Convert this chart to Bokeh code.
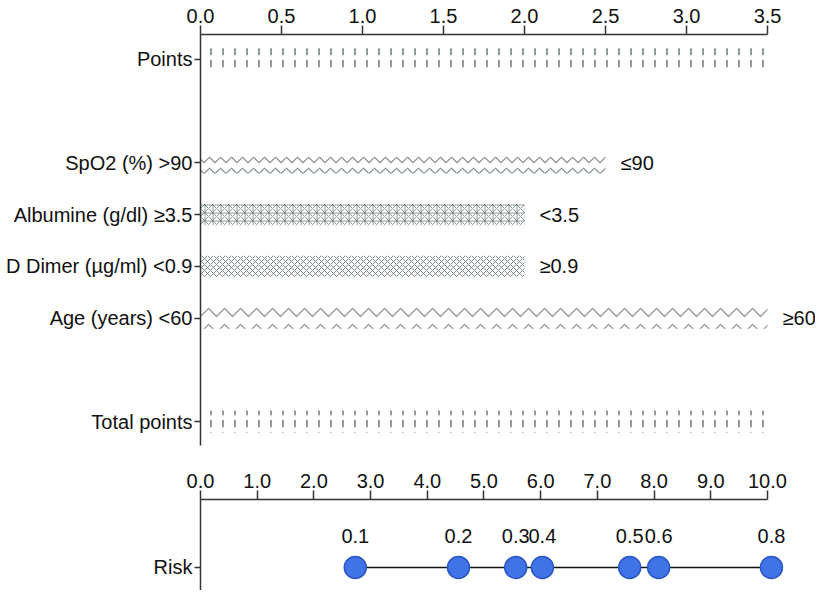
from bokeh.plotting import figure
from bokeh.layouts import column
from bokeh.models import Range1d, FixedTicker, NumeralTickFormatter, ColumnDataSource
from bokeh.embed import file_html
from bokeh.resources import INLINE
from bokeh.core.properties import value

# ---------------- data ----------------
row_labels = ["Points", "SpO2 (%) >90", "Albumine (g/dl) ≥3.5",
              "D Dimer (µg/ml) <0.9", "Age (years) <60", "Total points"]
row_pos = [0, 2, 3, 4, 5, 7]

var_rows = [2, 3, 4, 5]
var_points = [2.5, 2.0, 2.0, 3.5]
var_end_labels = ["≤90", "<3.5", "≥0.9", "≥60"]

scale_rows = [0, 7]          # Points, Total points
points_max = 3.5
points_ticks = [0.0, 0.5, 1.0, 1.5, 2.0, 2.5, 3.0, 3.5]
total_ticks = [0, 1, 2, 3, 4, 5, 6, 7, 8, 9, 10]

risk_labels = ["0.1", "0.2", "0.3", "0.4", "0.5", "0.6", "0.8"]
risk_total_points = [2.73, 4.55, 5.56, 6.03, 7.57, 8.08, 10.07]

# ---------------- style ----------------
FONT = "Liberation Sans"
FS = "20px"
HATCH_COLOR = "#6a7878"
AXIS_COLOR = "#333333"

def style_axes(p):
    for ax in p.axis:
        ax.axis_line_color = AXIS_COLOR
        ax.axis_line_width = 1.5
        ax.major_tick_line_color = AXIS_COLOR
        ax.major_tick_line_width = 1.5
        ax.minor_tick_line_color = None
        ax.major_tick_in = 0
        ax.major_label_text_font = FONT
        ax.major_label_text_font_size = FS
        ax.major_label_text_color = "#111111"
    p.grid.visible = False
    p.outline_line_color = None

# ---------------- top figure ----------------
p1 = figure(width=815, height=455, x_range=Range1d(0, 3.796), y_range=Range1d(7.464, -0.483),
            output_backend="svg", toolbar_location=None, x_axis_location="above",
            min_border_left=200, min_border_right=0, min_border_top=34, min_border_bottom=10)
style_axes(p1)
p1.xaxis.ticker = FixedTicker(ticks=points_ticks)
p1.xaxis.formatter = NumeralTickFormatter(format="0.0")
p1.xaxis.bounds = (0, points_max)
p1.xaxis.major_tick_out = 9
p1.xaxis.major_label_standoff = 3
p1.yaxis.ticker = FixedTicker(ticks=row_pos)
p1.yaxis.major_label_overrides = {k: v for k, v in zip(row_pos, row_labels)}
p1.yaxis.major_tick_out = 6
p1.yaxis.major_label_standoff = 2

scale_src = ColumnDataSource(dict(y=scale_rows, right=[points_max] * len(scale_rows)))
p1.hbar(y="y", left=0, right="right", height=0.43, source=scale_src,
        fill_color="white", line_color=None,
        hatch_pattern="vertical_dash", hatch_color=HATCH_COLOR, hatch_scale=12, hatch_weight=1.5)

var_src = ColumnDataSource(dict(y=var_rows, right=var_points, lab=var_end_labels,
                                pat=["horizontal_wave", "criss_cross", "diagonal_cross", "horizontal_wave"],
                                sc=[11, 8, 6, 16],
                                w=[1.2, 0.9, 1.0, 1.2]))
p1.hbar(y="y", left=0, right="right", height=0.41, source=var_src,
        fill_color="white", line_color=None,
        hatch_pattern="pat", hatch_color=HATCH_COLOR, hatch_scale="sc", hatch_weight="w",
        hatch_alpha=0.85)
p1.text(x="right", y="y", text="lab", source=var_src, x_offset=15,
        text_align="left", text_baseline="middle",
        text_font=value(FONT), text_font_size=FS, text_color="#111111")

# ---------------- bottom figure ----------------
p2 = figure(width=815, height=135, x_range=Range1d(0, 10.847), y_range=Range1d(-0.253, 0.747),
            output_backend="svg", toolbar_location=None, x_axis_location="above",
            min_border_left=200, min_border_right=0, min_border_top=44, min_border_bottom=0)
style_axes(p2)
p2.xaxis.ticker = FixedTicker(ticks=total_ticks)
p2.xaxis.formatter = NumeralTickFormatter(format="0.0")
p2.xaxis.bounds = (0, 10)
p2.xaxis.major_tick_out = 9
p2.xaxis.major_label_standoff = 3
p2.yaxis.ticker = FixedTicker(ticks=[0])
p2.yaxis.major_label_overrides = {0: "Risk"}
p2.yaxis.major_tick_out = 6
p2.yaxis.major_label_standoff = 2

risk_src = ColumnDataSource(dict(x=risk_total_points, y=[0] * len(risk_total_points), lab=risk_labels))
p2.line(x="x", y="y", source=risk_src, line_color="#111111", line_width=1.5)
p2.scatter(x="x", y="y", source=risk_src, size=22, fill_color="#3f73e6", line_color="#2a56c4", line_width=1.5)
p2.text(x="x", y="y", text="lab", source=risk_src, y_offset=-31,
        text_align="center", text_baseline="middle",
        text_font=value(FONT), text_font_size=FS, text_color="#111111")

layout = column(p1, p2, spacing=0)
open("out.html", "w").write(file_html(layout, INLINE))
